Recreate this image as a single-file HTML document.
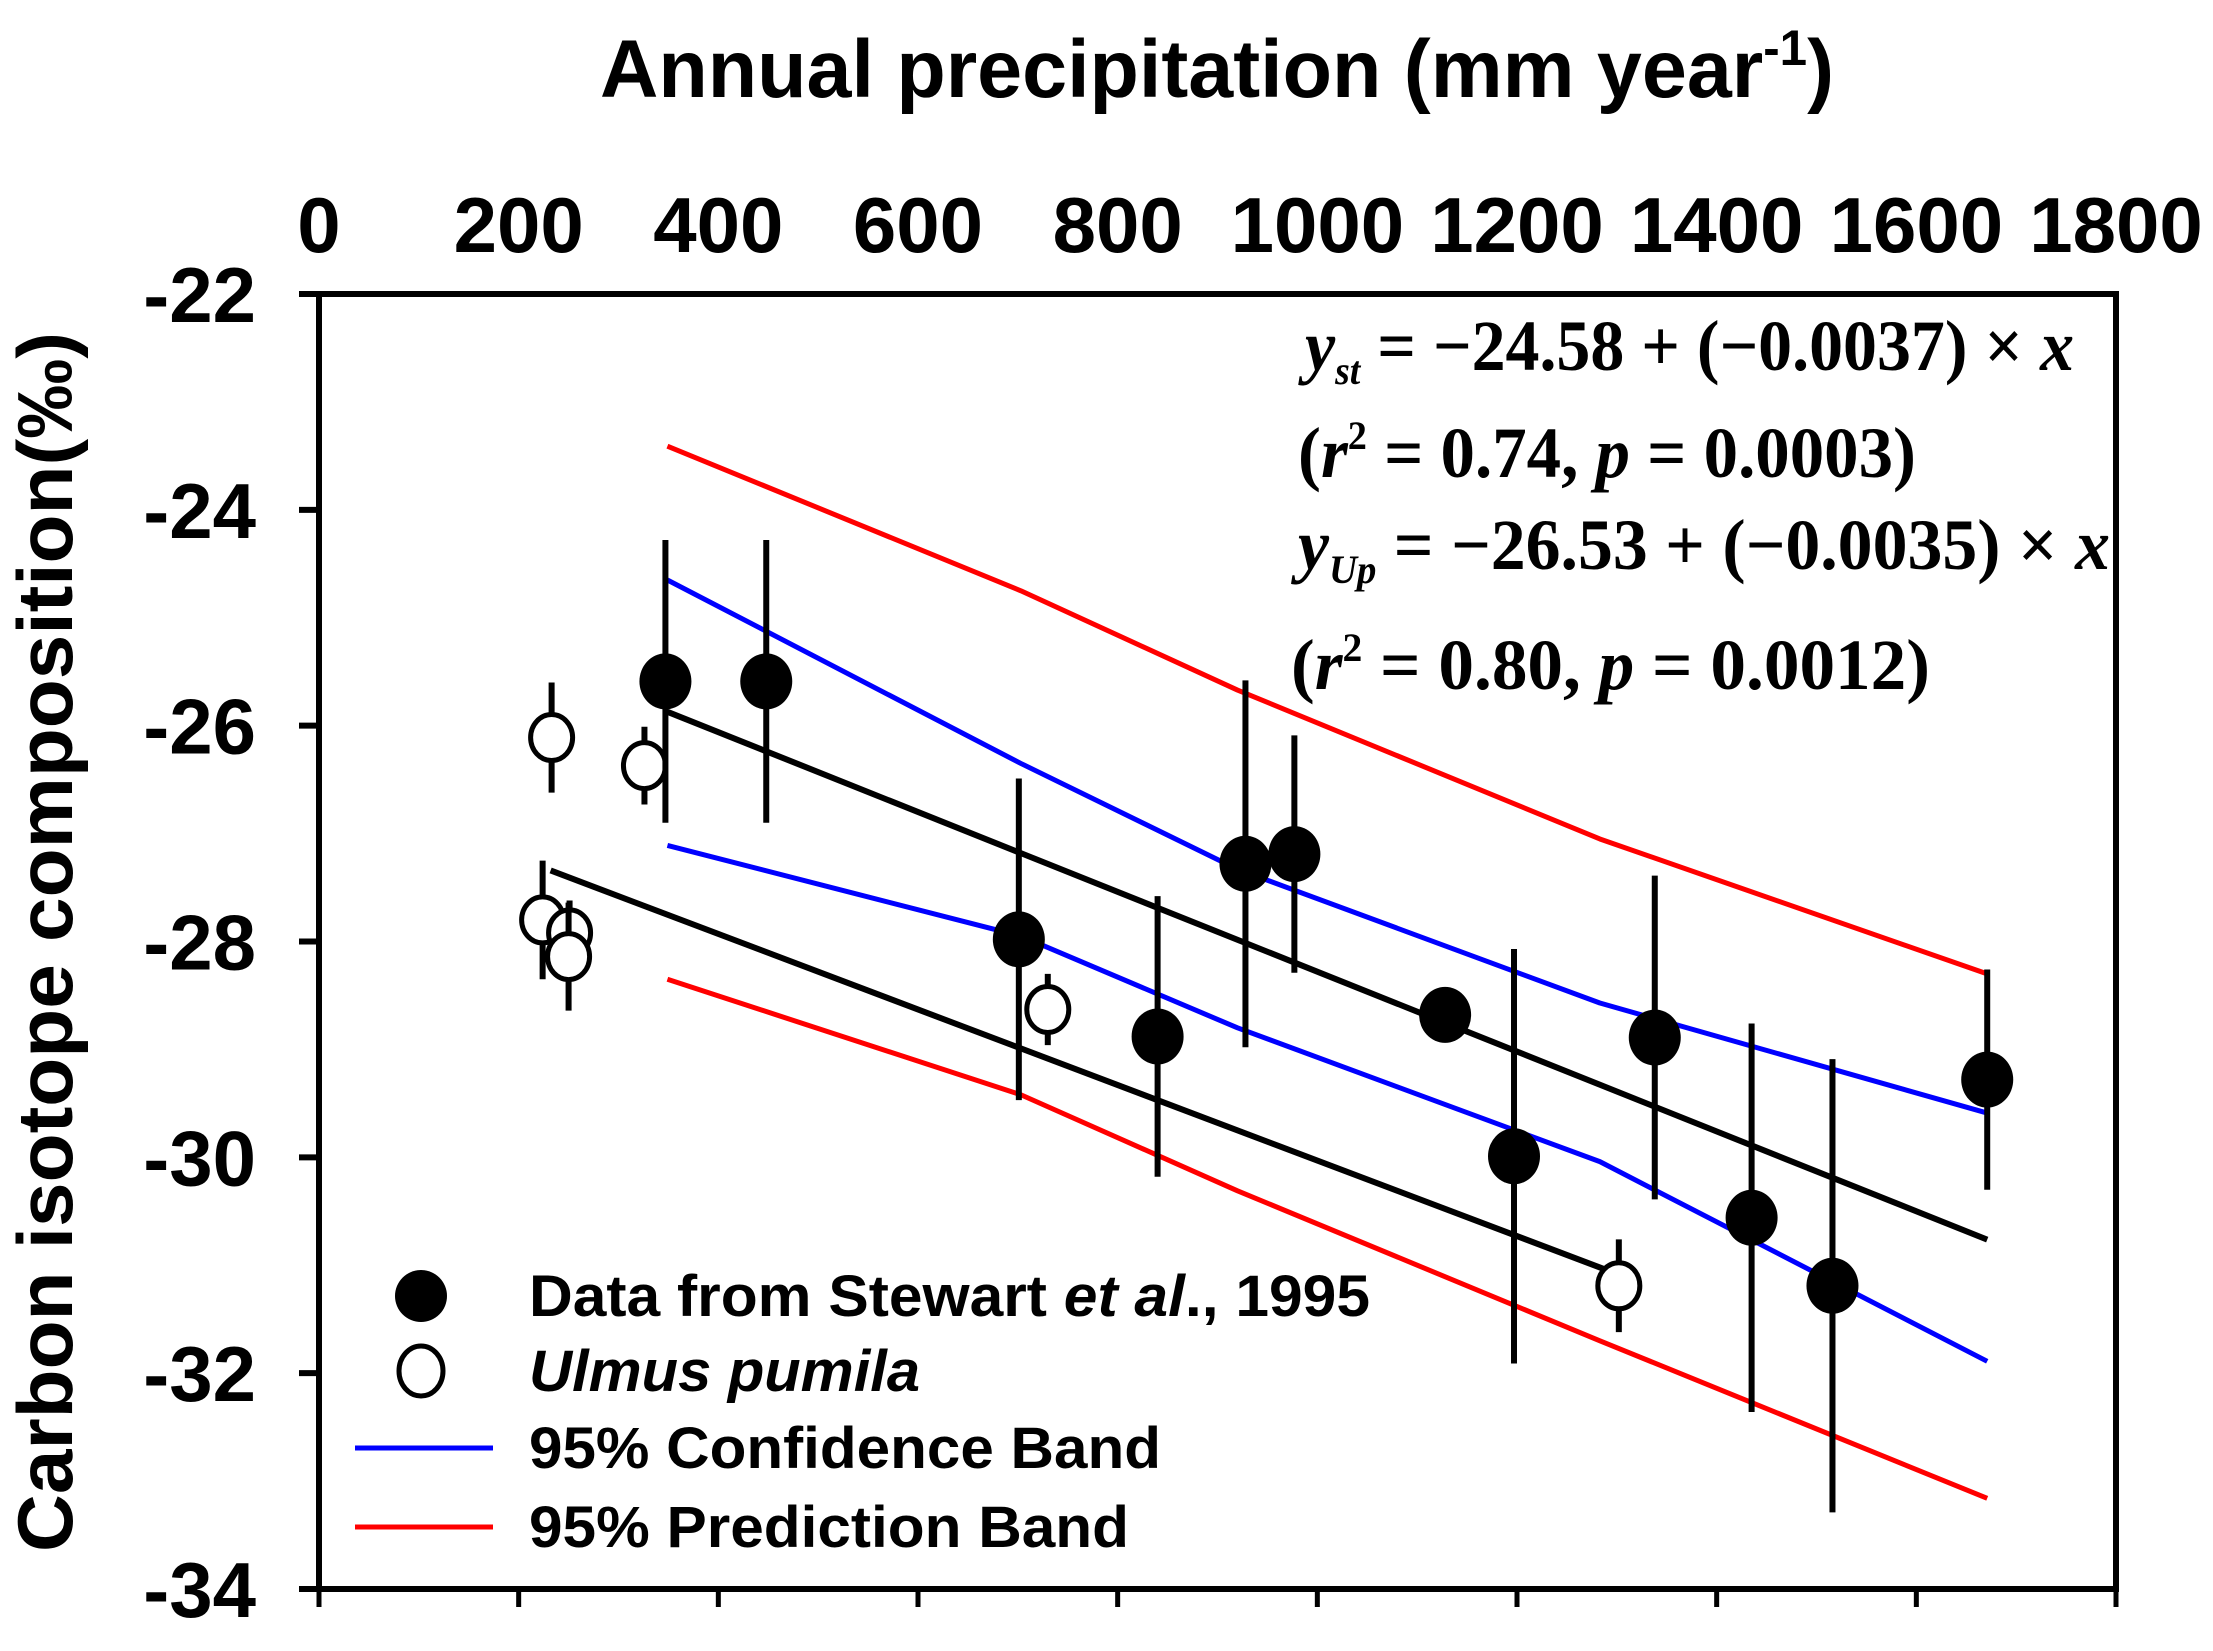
<!DOCTYPE html>
<html><head><meta charset="utf-8"><style>
html,body{margin:0;padding:0;background:#fff;}
svg{display:block;}
text{font-family:"Liberation Sans",Arial,sans-serif;}
.eq{font-family:"Liberation Serif","Times New Roman",serif;font-weight:bold;font-size:72px;}
</style></head><body>
<svg id="chart" width="2213" height="1651" viewBox="0 0 2213 1651" xmlns="http://www.w3.org/2000/svg">
<g id="axes"></g>
<g id="bands"></g>
<g id="points"></g>
<text x="600" y="97" font-size="82" font-weight="bold" textLength="1234" lengthAdjust="spacingAndGlyphs">Annual precipitation (mm year<tspan dy="-32" font-size="50">-1</tspan><tspan dy="32">)</tspan></text>
<text transform="translate(72,942) rotate(-90)" font-size="78" font-weight="bold" text-anchor="middle" textLength="1220" lengthAdjust="spacingAndGlyphs">Carbon isotope composition(‰)</text>
<g>
<text class="eq" x="1305" y="370" textLength="769" lengthAdjust="spacingAndGlyphs"><tspan font-style="italic">y</tspan><tspan font-style="italic" font-size="40" dy="14">st</tspan><tspan dy="-14"> = −24.58 + (−0.0037) × </tspan><tspan font-style="italic">x</tspan></text>
<text class="eq" x="1298" y="477" textLength="618" lengthAdjust="spacingAndGlyphs">(<tspan font-style="italic">r</tspan><tspan font-size="40" dy="-28">2</tspan><tspan dy="28"> = 0.74, </tspan><tspan font-style="italic">p</tspan> = 0.0003)</text>
<text class="eq" x="1298" y="569" textLength="812" lengthAdjust="spacingAndGlyphs"><tspan font-style="italic">y</tspan><tspan font-style="italic" font-size="40" dy="14">Up</tspan><tspan dy="-14"> = −26.53 + (−0.0035) × </tspan><tspan font-style="italic">x</tspan></text>
<text class="eq" x="1291" y="689" textLength="639" lengthAdjust="spacingAndGlyphs">(<tspan font-style="italic">r</tspan><tspan font-size="40" dy="-28">2</tspan><tspan dy="28"> = 0.80, </tspan><tspan font-style="italic">p</tspan> = 0.0012)</text>
</g>
<g>
<g><circle cx="421" cy="1296" r="26" fill="#000"/><text x="529" y="1316" font-size="58" font-weight="bold" textLength="841" lengthAdjust="spacingAndGlyphs">Data from Stewart <tspan font-style="italic">et al</tspan>., 1995</text></g>
<g><ellipse cx="421" cy="1371" rx="22" ry="25" fill="#fff" stroke="#000" stroke-width="5"/><text x="529" y="1391" font-size="58" font-weight="bold" font-style="italic" textLength="391" lengthAdjust="spacingAndGlyphs">Ulmus pumila</text></g>
<g><line x1="355" y1="1448" x2="493" y2="1448" stroke="#00f" stroke-width="5"/><text x="529" y="1468" font-size="58" font-weight="bold" textLength="632" lengthAdjust="spacingAndGlyphs">95% Confidence Band</text></g>
<g><line x1="355" y1="1527" x2="493" y2="1527" stroke="#f00" stroke-width="5"/><text x="529" y="1547" font-size="58" font-weight="bold" textLength="600" lengthAdjust="spacingAndGlyphs">95% Prediction Band</text></g>
</g>
</svg>
<script>
const xTicks = [0,200,400,600,800,1000,1200,1400,1600,1800];
const yTicks = [-22,-24,-26,-28,-30,-32,-34];
// Stewart et al. 1995 (filled)
const stX = [347,448,701,840,928,977,1128,1197,1338,1435,1516,1671];
const stY = [-25.59,-25.59,-27.98,-28.88,-27.28,-27.19,-28.68,-29.99,-28.89,-30.56,-31.19,-29.28];
const stErr = [1.31,1.31,1.49,1.3,1.7,1.1,0,1.92,1.5,1.8,2.1,1.02];
// Ulmus pumila (open)
const upX = [233,326,224,251,250,730,1302];
const upY = [-26.11,-26.37,-27.80,-27.92,-28.14,-28.63,-31.19];
const upErr = [0.51,0.36,0.55,0.3,0.5,0.33,0.43];
// regression fits [intercept, slope, xmin, xmax]
const fitSt = [-24.58,-0.0037,349,1671];
const fitUp = [-26.53,-0.0035,232,1301];
// bands sampled along x
const bandX = [349,703,920,1283,1671];
const confUpper = [-24.65,-26.35,-27.33,-28.57,-29.59];
const confLower = [-27.11,-27.95,-28.80,-30.04,-31.89];
const predUpper = [-23.41,-24.75,-25.67,-27.05,-28.30];
const predLower = [-28.35,-29.42,-30.31,-31.70,-33.16];

const X0=319,X1=2116,Y0=294,Y1=1589;
const sx=v=>X0+(v-0)/(1800-0)*(X1-X0);
const sy=v=>Y0+(-22-v)/(12)*(Y1-Y0);
const NS='http://www.w3.org/2000/svg';
function mk(tag,attrs,parent){const e=document.createElementNS(NS,tag);for(const k in attrs)e.setAttribute(k,attrs[k]);parent.appendChild(e);return e;}
const axes=document.getElementById('axes'),bands=document.getElementById('bands'),pts=document.getElementById('points');

let f=mk('rect',{x:X0,y:Y0,width:X1-X0,height:Y1-Y0,fill:'none',stroke:'#000','stroke-width':6},axes);


xTicks.forEach(t=>{
  const l=mk('line',{x1:sx(t),x2:sx(t),y1:Y1,y2:Y1+18,stroke:'#000','stroke-width':5},axes);
  
  
  const tx=mk('text',{x:sx(t),y:252,'font-size':78,'font-weight':'bold','text-anchor':'middle'},axes);
  tx.textContent=t;
  
  
});
yTicks.forEach(t=>{
  const l=mk('line',{x1:X0-20,x2:X0,y1:sy(t),y2:sy(t),stroke:'#000','stroke-width':6},axes);
  
  
  const tx=mk('text',{x:256,y:sy(t)+28,'font-size':78,'font-weight':'bold','text-anchor':'end'},axes);
  tx.textContent=t;
  
  
});
function band(arr,color,name){
  const p=mk('polyline',{points:bandX.map((x,i)=>sx(x)+','+sy(arr[i])).join(' '),fill:'none',stroke:color,'stroke-width':5,'stroke-linejoin':'round'},bands);
  
  
}
band(predUpper,'#f00','prediction-band-upper');
band(predLower,'#f00','prediction-band-lower');
band(confUpper,'#00f','confidence-band-upper');
band(confLower,'#00f','confidence-band-lower');
function fit(fp,name){
  const l=mk('line',{x1:sx(fp[2]),y1:sy(fp[0]+fp[1]*fp[2]),x2:sx(fp[3]),y2:sy(fp[0]+fp[1]*fp[3]),stroke:'#000','stroke-width':6},bands);
  
  
}
fit(fitSt,'fit-line-stewart');
fit(fitUp,'fit-line-ulmus');
function series(xs,ys,es,filled,name){
  xs.forEach((x,i)=>{
    if(es[i]>0){
      const e=mk('line',{x1:sx(x),x2:sx(x),y1:sy(ys[i]+es[i]),y2:sy(ys[i]-es[i]),stroke:'#000','stroke-width':6},pts);
      
      
    }
    const c=mk('ellipse',filled?{cx:sx(x),cy:sy(ys[i]),rx:26,ry:28,fill:'#000'}:{cx:sx(x),cy:sy(ys[i]),rx:21,ry:23,fill:'#fff',stroke:'#000','stroke-width':5},pts);
    
    
  });
}
series(upX,upY,upErr,false,'ulmus');
series(stX,stY,stErr,true,'stewart');
</script>
</body></html>
